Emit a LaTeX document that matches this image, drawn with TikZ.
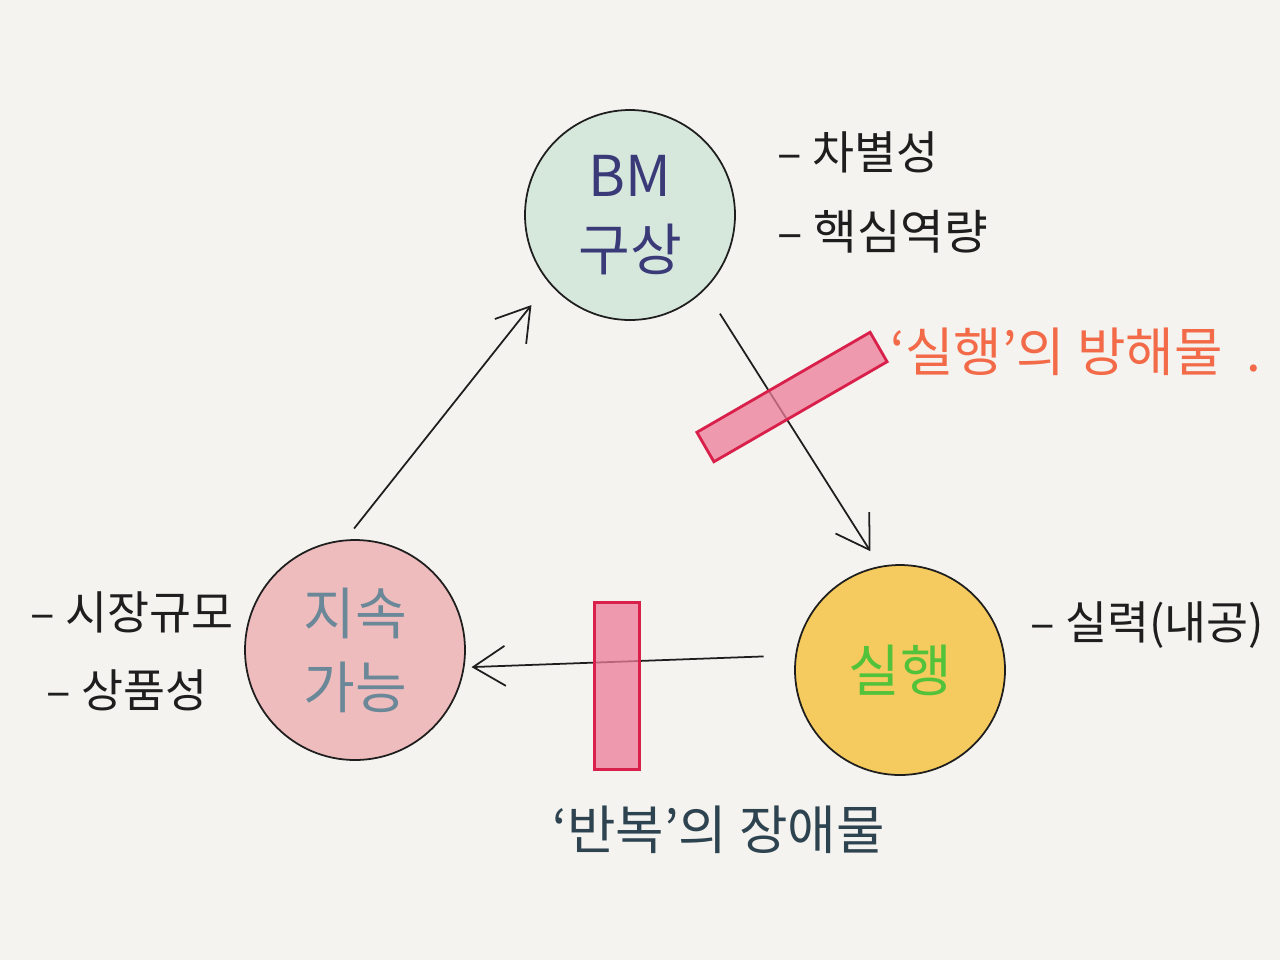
\documentclass[tikz,border=0pt]{standalone}
\usepackage{fontspec}
\setmainfont{Noto Sans CJK KR}
\usetikzlibrary{arrows.meta,positioning}
\definecolor{paper}{HTML}{F4F3EF}
\definecolor{ink}{HTML}{1E1E1E}
\definecolor{slate}{HTML}{2E4350}
\definecolor{mint}{HTML}{D6E7DC}
\definecolor{navy}{HTML}{3A3A78}
\definecolor{amber}{HTML}{F5CA5E}
\definecolor{leaf}{HTML}{52C23A}
\definecolor{rose}{HTML}{EFBCBE}
\definecolor{steel}{HTML}{6A8898}
\definecolor{crimson}{HTML}{D8204A}
\definecolor{blush}{HTML}{EC7B98}
\definecolor{coral}{HTML}{F36A48}
\tikzset{
  >={Straight Barb[length=3.2mm,width=4mm]},
  bubble/.style={circle,draw=ink,line width=.5pt,minimum size=21mm,inner sep=0pt,align=center,font=\fontsize{16}{21}\selectfont},
  note/.style={anchor=west,font=\fontsize{13}{16}\selectfont,text=ink},
  bar/.style={draw=crimson,fill=blush,fill opacity=.75,line width=.8pt,inner sep=0pt},
  flow/.style={->,line width=.5pt,color=ink},
}
\begin{document}
\begin{tikzpicture}[x=0.1mm,y=-0.1mm]
  \fill[paper] (0,0) rectangle (1280,960);
  \useasboundingbox (0,0) rectangle (1280,960);
  % three bubbles
  \node[bubble,fill=mint,text=navy] (plan) at (630,215) {BM\\구상};
  \node[bubble,fill=amber,text=leaf] (exec) at (900,670) {실행};
  \node[bubble,fill=rose,text=steel,minimum size=22mm] (keep) at (355,650) {지속\\가능};
  % cycle
  \draw[flow,shorten <=8pt,shorten >=5pt] (plan.-45) -- (exec.101);
  \draw[flow,shorten <=9pt,shorten >=2pt] (exec.172) -- (keep.-9);
  \draw[flow,shorten <=4pt,shorten >=8pt] (keep.95) -- (plan.220);
  % blockers
  \node[bar,rotate=30,minimum width=20mm,minimum height=3.4mm] (block1) at (792,397) {};
  \node[bar,minimum width=4.5mm,minimum height=16.7mm] (block2) at (617,686) {};
  % notes
  \node[note] (diff) at (765,152) {– 차별성};
  \node[note,font=\fontsize{13.5}{16}\selectfont] (core) at (765,232) {– 핵심역량};
  \node[note] (skill) at (1018,625) {– 실력(내공)};
  \node[note] (market) at (18,612) {– 시장규모};
  \node[note] (goods) at (34,690) {– 상품성};
  \node[note,text=coral,font=\fontsize{15}{18}\selectfont] (hinder) at (878,352) {`실행'의 방해물~~.};
  \node[note,text=slate,font=\fontsize{15}{18}\selectfont] (repeat) at (540,830) {`반복'의 장애물};
\end{tikzpicture}
\end{document}
